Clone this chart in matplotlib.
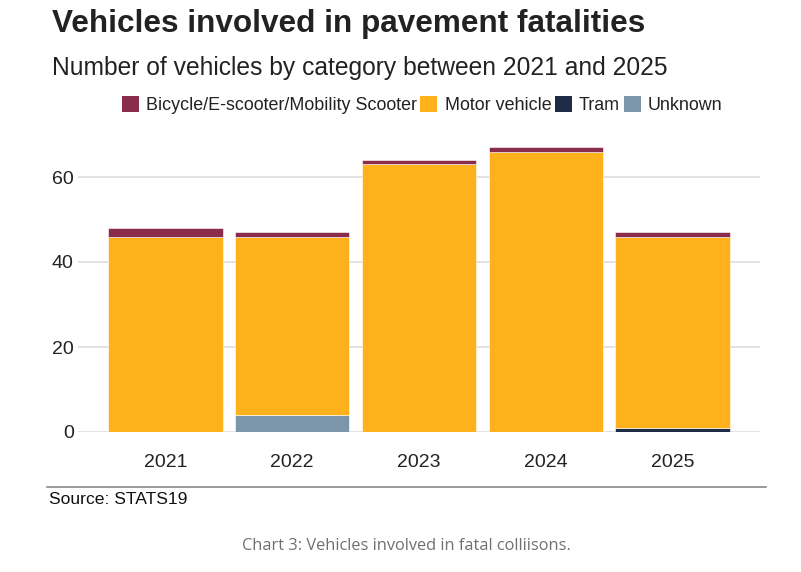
import matplotlib
matplotlib.use("Agg")
import matplotlib.pyplot as plt
from matplotlib.patches import Patch
import numpy as np

plt.rcParams['font.family'] = ['Liberation Sans', 'DejaVu Sans']

# data
years = ['2021', '2022', '2023', '2024', '2025']
categories = ['Bicycle/E-scooter/Mobility Scooter', 'Motor vehicle', 'Tram', 'Unknown']
unknown = [0, 4, 0, 0, 0]
tram = [0, 0, 0, 0, 1]
motor = [46, 42, 63, 66, 45]
bicycle = [2, 1, 1, 1, 1]
y_ticks = [0, 20, 40, 60]

colours = {'Bicycle/E-scooter/Mobility Scooter': '#8a2c4c',
           'Motor vehicle': '#ffb11b',
           'Tram': '#1e2c48',
           'Unknown': '#7b95a9'}

fig = plt.figure(figsize=(8.01, 5.72), dpi=100)
ax = fig.add_axes([78/801, 1 - 432/572, 682/801, 297.5/572])

x = np.arange(len(years))
# stack from bottom: unknown, tram, motor vehicle, bicycle
bottom = np.zeros(len(years))
for name, vals in [('Unknown', unknown), ('Tram', tram),
                   ('Motor vehicle', motor),
                   ('Bicycle/E-scooter/Mobility Scooter', bicycle)]:
    ax.bar(x, vals, width=0.9, bottom=bottom, color=colours[name],
           edgecolor='white', linewidth=0.4, zorder=3)
    bottom += np.array(vals)

ax.set_xlim(-0.69, 4.69)
ax.set_ylim(0, 70)
ax.set_yticks(y_ticks)
ax.set_xticks(x)
ax.set_xticklabels(years)
ax.yaxis.grid(True, color='#dddddd', linewidth=1.2, zorder=0)
ax.tick_params(axis='both', length=0, labelsize=14, colors='#222222')
ax.tick_params(axis='x', pad=16)
ax.tick_params(axis='y', pad=3)
for s in ax.spines.values():
    s.set_visible(False)

# titles
fig.text(52/801, 1 - 24/572, 'Vehicles involved in pavement fatalities',
         fontsize=22.7, fontweight='bold', color='#222222', va='center', ha='left')
fig.text(52/801, 1 - 67.5/572, 'Number of vehicles by category between 2021 and 2025',
         fontsize=17.7, color='#222222', va='center', ha='left')

# legend
handles = [Patch(facecolor=colours[c], edgecolor='none') for c in categories]
fig.legend(handles, categories, loc='center', bbox_to_anchor=(422/801, 1 - 105/572),
           ncol=4, frameon=False, fontsize=12.9, handlelength=0.95, handleheight=1.0,
           handletextpad=0.4, columnspacing=0.2, borderpad=0, labelcolor='#222222')

# source line and caption
fig.add_artist(plt.Line2D([47/801, 766/801], [1 - 487/572, 1 - 487/572],
                          color='#888888', linewidth=1.2))
fig.text(49/801, 1 - 500/572, 'Source: STATS19', fontsize=12.6, color='#111111',
         va='center', ha='left')
fig.text(406/801, 1 - 546/572, 'Chart 3: Vehicles involved in fatal colliisons.',
         fontsize=11.8, color='#707070', va='center', ha='center',
         family=['Open Sans', 'DejaVu Sans'])

fig.savefig('out.png', dpi=100, facecolor='white')
